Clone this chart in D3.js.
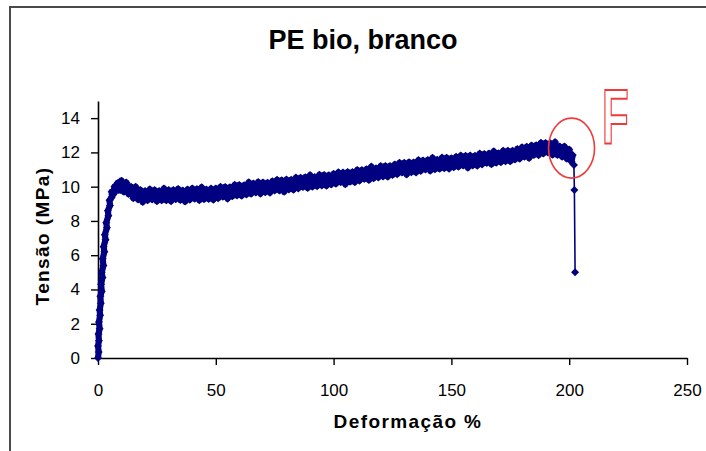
<!DOCTYPE html>
<html>
<head>
<meta charset="utf-8">
<script src="https://cdn.jsdelivr.net/npm/d3@7"></script>
<style>
  html, body { margin: 0; padding: 0; background: #fff; }
  svg { display: block; font-family: "Liberation Sans", Arial, sans-serif; }
</style>
</head>
<body>
<svg id="chart" width="706" height="451"></svg>
<script>
// ---- data ----
const chartTitle = "PE bio, branco";
const xTitle = "Deformação %";
const yTitle = "Tensão (MPa)";
const xTicks = [0, 50, 100, 150, 200, 250];
const yTicks = [0, 2, 4, 6, 8, 10, 12, 14];

// strain (%) for the elastic rise
const riseStrain = [0.0, 0.3, 0.0, 0.4, 0.2, 0.7, 0.4, 0.9, 0.7, 1.2, 1.0, 1.6, 1.3, 1.9, 1.6, 2.3, 2.0, 2.7, 2.4, 3.2,
  2.9, 3.8, 3.5, 4.4, 4.2, 5.1, 4.9, 5.9, 5.8, 6.8, 7.0, 7.8, 8.2, 8.8, 9.3, 9.6];
// stress (MPa) for the elastic rise
const riseStress = [0.0, 0.35, 0.7, 1.0, 1.4, 1.7, 2.1, 2.5, 2.8, 3.2, 3.6, 3.9, 4.3, 4.7, 5.0, 5.4, 5.8, 6.2, 6.5, 6.9,
  7.2, 7.6, 7.9, 8.3, 8.6, 8.9, 9.2, 9.4, 9.7, 9.6, 10.0, 9.8, 10.2, 9.8, 10.3, 9.8];

// stress (MPa) in the plastic region, one reading per 1 % strain from 10 % to 201 %
const plasticStart = 10;
const plasticStress = [
  10.35, 9.70, 10.25, 9.57, 10.00, 9.33, 10.00, 9.25, 9.80, 9.10,
  9.75, 9.20, 9.85, 9.25, 9.80, 9.15, 9.75, 9.20, 9.90, 9.20,
  9.80, 9.15, 9.81, 9.26, 9.87, 9.22, 9.78, 9.13, 9.84, 9.24,
  9.90, 9.30, 9.86, 9.21, 9.97, 9.27, 9.83, 9.28, 9.89, 9.24,
  9.90, 9.32, 9.99, 9.41, 9.98, 9.30, 9.97, 9.44, 10.11, 9.48,
  10.10, 9.47, 10.08, 9.55, 10.26, 9.58, 10.19, 9.66, 10.27, 9.59,
  10.25, 9.67, 10.23, 9.65, 10.32, 9.78, 10.40, 9.77, 10.38, 9.70,
  10.42, 9.83, 10.40, 9.82, 10.53, 9.90, 10.52, 9.98, 10.55, 9.92,
  10.68, 10.00, 10.57, 10.03, 10.70, 10.07, 10.68, 10.05, 10.67, 10.13,
  10.75, 10.17, 10.84, 10.26, 10.82, 10.14, 10.86, 10.28, 10.85, 10.26,
  10.98, 10.35, 10.97, 10.45, 11.02, 10.39, 11.17, 10.49, 11.07, 10.54,
  11.21, 10.59, 11.21, 10.58, 11.21, 10.68, 11.30, 10.73, 11.40, 10.82,
  11.39, 10.71, 11.43, 10.84, 11.41, 10.83, 11.55, 10.92, 11.53, 11.00,
  11.56, 10.93, 11.69, 11.01, 11.57, 11.04, 11.70, 11.07, 11.69, 11.05,
  11.66, 11.13, 11.74, 11.16, 11.82, 11.23, 11.80, 11.11, 11.82, 11.24,
  11.80, 11.22, 11.93, 11.30, 11.91, 11.38, 11.94, 11.31, 12.07, 11.39,
  11.95, 11.43, 12.10, 11.48, 12.10, 11.48, 12.10, 11.58, 12.20, 11.63,
  12.30, 11.74, 12.33, 11.67, 12.41, 11.85, 12.42, 11.84, 12.56, 11.93,
  12.55, 11.99, 12.53, 11.86, 12.60, 11.85, 12.35, 11.75, 12.35, 11.63,
  12.17, 11.45
];

// rupture
const breakStrain = [201.5, 202.0, 202.2, 202.5];
const breakStress = [11.85, 11.26, 9.8, 5.0];

// failure annotation (ellipse centre, in data units)
const failStrain = 201;
const failStress = 12.25;
const failLabel = "F";

// ---- build the series table ----
const bandData = [];
riseStrain.forEach((s, i) => bandData.push({ x: s, y: riseStress[i] }));
plasticStress.forEach((v, i) => bandData.push({ x: plasticStart + i, y: v }));
bandData.push({ x: breakStrain[0], y: breakStress[0] });
const dropData = breakStrain.map((s, i) => ({ x: s, y: breakStress[i] }));

// ---- layout ----
const svg = d3.select("#chart");
const plotL = 98, plotR = 687, plotT = 101, plotB = 358;
const x = d3.scaleLinear().domain([0, 250]).range([plotL, plotR]);
const y = d3.scaleLinear().domain([0, 15]).range([plotB, plotT]);
const navy = "#000080";

// outer frame
svg.append("rect")
  .attr("x", 10).attr("y", 7).attr("width", 760).attr("height", 500)
  .attr("fill", "none").attr("stroke", "#4a4a4a").attr("stroke-width", 2);

// title
svg.append("text")
  .attr("x", 363).attr("y", 49)
  .attr("text-anchor", "middle")
  .attr("font-size", 27).attr("font-weight", "bold")
  .text(chartTitle);

// axes
const gx = svg.append("g").attr("transform", `translate(0,${plotB})`)
  .call(d3.axisBottom(x).tickValues(xTicks).tickSizeOuter(0).tickSizeInner(7).tickPadding(19));
const gy = svg.append("g").attr("transform", `translate(${plotL},0)`)
  .call(d3.axisLeft(y).tickValues(yTicks).tickSizeOuter(0).tickSizeInner(7).tickPadding(11));
[gx, gy].forEach(g => {
  g.select(".domain").attr("stroke", "#000").attr("stroke-width", 1.6);
  g.selectAll(".tick line").attr("stroke", "#000").attr("stroke-width", 1.4);
  g.selectAll(".tick text").attr("font-size", 17).attr("fill", "#000")
    .attr("font-family", "Liberation Sans, Arial, sans-serif");
});

// axis titles
svg.append("text")
  .attr("x", 408).attr("y", 428)
  .attr("text-anchor", "middle")
  .attr("font-size", 19).attr("font-weight", "bold")
  .attr("letter-spacing", 1.4)
  .text(xTitle);
svg.append("text")
  .attr("transform", "translate(49,236) rotate(-90)")
  .attr("text-anchor", "middle")
  .attr("font-size", 19).attr("font-weight", "bold")
  .attr("letter-spacing", 1.4)
  .text(yTitle);

// series line (dense noisy readings -> thick band), then the thin rupture drop
const line = d3.line().x(d => x(d.x)).y(d => y(d.y));
svg.append("path")
  .datum(bandData)
  .attr("d", line)
  .attr("fill", "none")
  .attr("stroke", navy)
  .attr("stroke-width", 6.2)
  .attr("stroke-linejoin", "round");
svg.append("path")
  .datum(dropData)
  .attr("d", line)
  .attr("fill", "none")
  .attr("stroke", navy)
  .attr("stroke-width", 1.6);

// diamond markers
svg.append("g").selectAll("path")
  .data(bandData.concat(dropData.slice(1)))
  .join("path")
  .attr("transform", d => `translate(${x(d.x)},${y(d.y)})`)
  .attr("d", "M0,-4L4,0L0,4L-4,0Z")
  .attr("fill", navy);

// failure annotation
svg.append("ellipse")
  .attr("cx", x(failStrain)).attr("cy", y(failStress))
  .attr("rx", 23).attr("ry", 30)
  .attr("fill", "none").attr("stroke", "#ee3b3b").attr("stroke-width", 1.6);
svg.append("text")
  .attr("transform", "translate(602,144) scale(0.56,1)")
  .attr("font-size", 78).attr("font-weight", "bold")
  .attr("fill", "#fff").attr("stroke", "#f03a3a").attr("stroke-width", 1.6)
  .style("vector-effect", "non-scaling-stroke")
  .text(failLabel);
</script>
</body>
</html>
